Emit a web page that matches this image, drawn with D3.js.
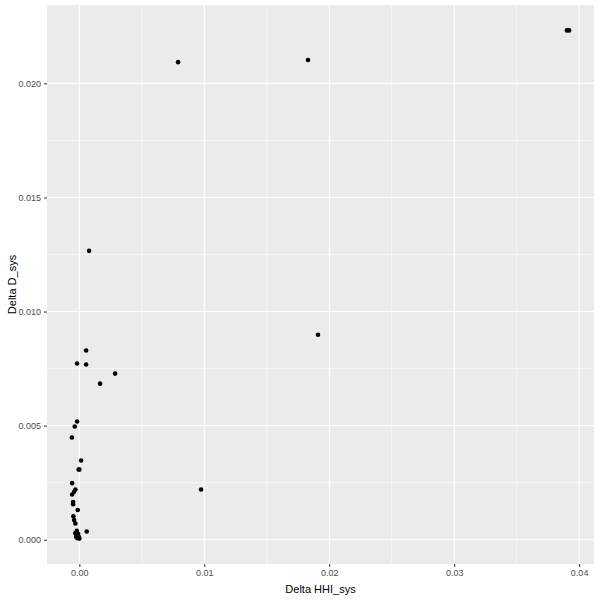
<!DOCTYPE html>
<html>
<head>
<meta charset="utf-8">
<script src="https://cdn.jsdelivr.net/npm/d3@7"></script>
<style>
  body { margin: 0; background: #fff; }
  svg { display: block; font-family: "Liberation Sans", Arial, sans-serif; }
</style>
</head>
<body>
<svg></svg>
<script>
// values
var deltaHHI = [0.03902, 0.03920, 0.00790, 0.01830, 0.00078, 0.01910, 0.00054, -0.00018,
    0.00054, 0.00286, 0.00166, -0.00018, -0.00037, -0.00060, 0.00974, 0.00014, 0.00000,
    -0.00006, -0.00058, -0.00032, -0.00042, -0.00058, -0.00050, -0.00050, -0.00013,
    -0.00048, -0.00042, -0.00032, 0.00059, -0.00021, -0.00032, -0.00010, -0.00026,
    -0.00005, 0.00000, -0.00016];
var deltaD = [0.02232, 0.02232, 0.02093, 0.02102, 0.01266, 0.00898, 0.00829, 0.00772,
    0.00768, 0.00728, 0.00684, 0.00518, 0.00496, 0.00448, 0.00220, 0.00347, 0.00308,
    0.00308, 0.00248, 0.00220, 0.00210, 0.00198, 0.00165, 0.00156, 0.00130,
    0.00103, 0.00086, 0.00071, 0.00036, 0.00039, 0.00028, 0.00026, 0.00013,
    0.00013, 0.00005, 0.00007];
var xTicks = [0, 0.01, 0.02, 0.03, 0.04];
var xMinor = [0.005, 0.015, 0.025, 0.035];
var yTicks = [0, 0.005, 0.010, 0.015, 0.020];
var yMinor = [0.0025, 0.0075, 0.0125, 0.0175];

var W = 600, H = 600;
var m = {top: 5, right: 6, bottom: 36, left: 47};
var pw = W - m.left - m.right, ph = H - m.top - m.bottom;

var svg = d3.select('svg').attr('width', W).attr('height', H);

function expand(ext) {
    var d = ext[1] - ext[0];
    return [ext[0] - d * 0.05, ext[1] + d * 0.05];
}

var x = d3.scaleLinear().domain(expand(d3.extent(deltaHHI))).range([0, pw]);
var y = d3.scaleLinear().domain(expand(d3.extent(deltaD))).range([ph, 0]);

var g = svg.append('g').attr('transform', 'translate(' + m.left + ',' + m.top + ')');

g.append('rect').attr('width', pw).attr('height', ph).attr('fill', '#EBEBEB');

// minor grid
g.selectAll('.xminor').data(xMinor).enter().append('line')
    .attr('x1', x).attr('x2', x).attr('y1', 0).attr('y2', ph)
    .attr('stroke', '#fff').attr('stroke-width', 0.55);
g.selectAll('.yminor').data(yMinor).enter().append('line')
    .attr('y1', y).attr('y2', y).attr('x1', 0).attr('x2', pw)
    .attr('stroke', '#fff').attr('stroke-width', 0.55);
// major grid
g.selectAll('.xmajor').data(xTicks).enter().append('line')
    .attr('x1', x).attr('x2', x).attr('y1', 0).attr('y2', ph)
    .attr('stroke', '#fff').attr('stroke-width', 1.1);
g.selectAll('.ymajor').data(yTicks).enter().append('line')
    .attr('y1', y).attr('y2', y).attr('x1', 0).attr('x2', pw)
    .attr('stroke', '#fff').attr('stroke-width', 1.1);

// axes
var xAxis = g.append('g').attr('transform', 'translate(0,' + ph + ')')
    .call(d3.axisBottom(x).tickValues(xTicks).tickFormat(d3.format('.2f')).tickSize(3).tickPadding(3));
var yAxis = g.append('g')
    .call(d3.axisLeft(y).tickValues(yTicks).tickFormat(d3.format('.3f')).tickSize(3).tickPadding(3));

[xAxis, yAxis].forEach(function (a) {
    a.select('.domain').remove();
    a.selectAll('line').attr('stroke', '#333333').attr('stroke-width', 1);
    a.selectAll('text').attr('fill', '#4D4D4D').style('font-size', '9px')
        .style('font-family', '"Liberation Sans", Arial, sans-serif');
});

// points
g.selectAll('.pt').data(deltaHHI).enter().append('circle')
    .attr('cx', function (d) { return x(d); })
    .attr('cy', function (d, i) { return y(deltaD[i]); })
    .attr('r', 2.3)
    .attr('fill', '#000');

// axis titles
svg.append('text')
    .attr('x', m.left + pw / 2).attr('y', 593)
    .attr('text-anchor', 'middle').style('font-size', '11px').attr('fill', '#000')
    .text('Delta HHI_sys');
svg.append('text')
    .attr('transform', 'translate(16,' + (m.top + ph / 2) + ') rotate(-90)')
    .attr('text-anchor', 'middle').style('font-size', '11px').attr('fill', '#000')
    .text('Delta D_sys');
</script>
</body>
</html>
